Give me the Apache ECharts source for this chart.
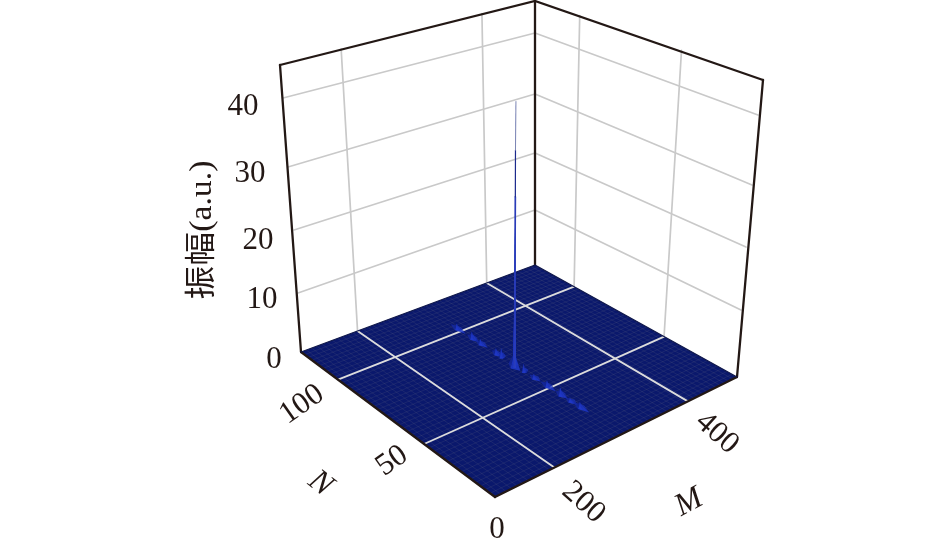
<!DOCTYPE html>
<html><head><meta charset="utf-8">
<style>html,body{margin:0;padding:0;background:#fff}#c{width:945px;height:547px}</style>
<script src="https://cdn.jsdelivr.net/npm/echarts@6/dist/echarts.min.js"></script>
</head><body><div id="c"></div>
<script>
// ---- data ----
const mTicks = [200, 400];
const nTicks = [50, 100];
const zTicks = [10, 20, 30, 40];
const zTickLabels = ['0', '10', '20', '30', '40'];
const mRange = [120.8, 482.5];
const nRange = [13.7, 123.8];
const zTop = 45;
// ridge of small peaks on the surface
const ridgeM = [296, 296, 296, 296, 296, 296, 296, 296, 296, 296, 296];
const ridgeN = [102, 93, 88, 79, 76, 63.5, 58, 51, 44, 39, 34];
const ridgeZ = [1.0, 1.2, 0.9, 1.0, 1.6, 1.3, 0.7, 1.0, 1.2, 0.6, 0.9];
const ridgeWide = [4.5, 3.5, 3.5, 3, 1, 1, 3, 4, 3, 3, 4];
// central spike, as nested layers of one narrow peak
const spikeM = 295;
const spikeN = 68.2;
const spikeZ = [2.2, 13, 26, 41];
const spikeHalfM = [6, 2.2, 1.3, 0.7];
const spikeHalfN = [3.2, 0.9, 0.6, 0.3];

// ---- projection calibration (screen corners and z ticks of the box) ----
const F = [495, 497], R = [737, 377], B = [535, 265], L = [301, 352];
const zKnots = [0, 10, 20, 30, 40, 45];
const leftEdge  = [[301,352],[298,293],[294,230],[288,167],[283,98],[280,65]];
const backEdge0 = [[535,265],[535,210],[535,153],[535,94],[535,33],[535,1]];
const rightEdge = [[737,377],[741,310],[746,247],[752,185],[758,115],[763,80]];
const dx1=R[0]-B[0], dy1=R[1]-B[1], dx2=L[0]-B[0], dy2=L[1]-B[1];
const sx=F[0]-R[0]+B[0]-L[0], sy=F[1]-R[1]+B[1]-L[1];
const den=dx1*dy2-dx2*dy1;
const g=(sx*dy2-dx2*sy)/den, h=(dx1*sy-sx*dy1)/den;
const A=R[0]-F[0]+g*R[0], Bb=L[0]-F[0]+h*L[0], C=F[0];
const D=R[1]-F[1]+g*R[1], E=L[1]-F[1]+h*L[1], Ff=F[1];
function lift(edge,Z,k){
  let i=0; while(i<zKnots.length-2 && Z>zKnots[i+1]) i++;
  const t=(Z-zKnots[i])/(zKnots[i+1]-zKnots[i]);
  return edge[i][k]+(edge[i+1][k]-edge[i][k])*t-edge[0][k];
}
function project(M,N,Z){
  const u=(M-mRange[0])/(mRange[1]-mRange[0]), v=(N-nRange[0])/(nRange[1]-nRange[0]);
  const w=g*u+h*v+1, out=[(A*u+Bb*v+C)/w,(D*u+E*v+Ff)/w];
  for(let k=0;k<2;k++){
    const l=lift(leftEdge,Z,k), b=lift(backEdge0,Z,k), r=lift(rightEdge,Z,k), f=l+r-b;
    out[k]+=(1-u)*(1-v)*f+u*(1-v)*r+u*v*b+(1-u)*v*l;
  }
  return out;
}
const m0=mRange[0],m1=mRange[1],n0=nRange[0],n1=nRange[1];

// ---- build segment tables ----
const wallGrid=[], floorGrid=[], frame=[], mesh=[];
mTicks.forEach(function(m){wallGrid.push([m,n1,0,m,n1,zTop]);floorGrid.push([m,n0,0,m,n1,0]);});
nTicks.forEach(function(n){wallGrid.push([m1,n,0,m1,n,zTop]);floorGrid.push([m0,n,0,m1,n,0]);});
zTicks.forEach(function(z){wallGrid.push([m0,n1,z,m1,n1,z]);wallGrid.push([m1,n1,z,m1,n0,z]);});
frame.push([m0,n1,zTop,m1,n1,zTop],[m1,n1,zTop,m1,n0,zTop],[m0,n1,0,m0,n1,zTop],[m1,n1,0,m1,n1,zTop],[m1,n0,0,m1,n0,zTop]);
const base=[[m0,n0,0,m1,n0,0],[m0,n0,0,m0,n1,0]];
const backEdge=[[m0,n1,0,m1,n1,0],[m1,n1,0,m1,n0,0]];
for(let i=1;i<50;i++){const m=m0+(m1-m0)*i/50;mesh.push([m,n0,0,m,n1,0]);}
for(let i=1;i<46;i++){const n=n0+(n1-n0)*i/46;mesh.push([m0,n,0,m1,n,0]);}

const peaks=[];
ridgeN.forEach(function(n,i){peaks.push([ridgeM[i]+2,n,ridgeZ[i]*0.5,5,ridgeWide[i]]);peaks.push([ridgeM[i],n,ridgeZ[i],2.2,Math.min(ridgeWide[i],1.6)]);});
spikeZ.forEach(function(z,i){peaks.push([spikeM,spikeN,z,spikeHalfM[i],spikeHalfN[i]]);});
const spikeLower=[[spikeM,spikeN,0,spikeM,spikeN,27]];
const spikeUpper=[[spikeM,spikeN,27,spikeM,spikeN,34]];
const spikeTip=[[spikeM,spikeN,34,spikeM,spikeN,41]];

// ---- text tables ----
const serif='"Liberation Serif","Noto Sans CJK SC",serif';
const texts=[];
function label(t,at,dx,dy,rot,font,sc){texts.push({t:t,at:at,dx:dx,dy:dy,rot:rot,font:font||('31px '+serif),sc:sc||1});}
zTickLabels.forEach(function(t,i){
  const off=[[-27,8],[-36,7],[-36,11],[-38,7],[-40,9]][i];
  label(t,[m0,n1,Number(t)],off[0],off[1],0);
});
label('0',[m0,n0,0],2,33,0);
label('50',[m0,50,0],-32,17,35);
label('100',[m0,100,0],-36,25,35);
label('200',[200,n0,0],29,35,-42);
label('400',[400,n0,0],29,32,-42);
label('M',[(m0+m1)/2,n0,0],64,70,28,'italic 32px '+serif);
label('N',[m0,(n0+n1)/2,0],-70,65,-38,'italic 32px '+serif);
label('振幅(a.u.)',[m0,n1,0],-98,-122,90,'31px '+serif,1.09);

function coord(api,M,N,Z){return api.coord(project(M,N,Z));}
function segSeries(rows,color,width,z,name){
  return {type:'custom',name:name,coordinateSystem:'cartesian2d',z:z,silent:true,clip:false,
    encode:{x:0,y:1},data:rows,
    renderItem:function(p,api){
      const a=coord(api,api.value(0),api.value(1),api.value(2));
      const b=coord(api,api.value(3),api.value(4),api.value(5));
      return {type:'line',shape:{x1:a[0],y1:a[1],x2:b[0],y2:b[1]},style:{stroke:color,lineWidth:width,lineCap:'round'}};
    }};
}
const option={
  animation:false,backgroundColor:'#fff',
  grid:{left:0,right:0,top:0,bottom:0},
  xAxis:{type:'value',min:0,max:945,show:false},
  yAxis:{type:'value',min:0,max:547,inverse:true,show:false},
  series:[
    segSeries(wallGrid,'#c9c9c9',1.7,1,'walls'),
    segSeries(frame,'#231815',2.3,2,'frame'),
    {type:'custom',name:'surface',coordinateSystem:'cartesian2d',z:3,silent:true,clip:false,encode:{x:0,y:1},
      data:[[m0,n0,m1,n1]],
      renderItem:function(p,api){
        const a=api.value(0),b=api.value(1),c=api.value(2),d=api.value(3);
        return {type:'polygon',shape:{points:[coord(api,a,b,0),coord(api,c,b,0),coord(api,c,d,0),coord(api,a,d,0)]},style:{fill:'#0a186c'}};
      }},
    segSeries(mesh,'rgba(125,125,135,0.24)',0.6,4,'mesh'),
    segSeries(floorGrid,'#dcdcdc',1.8,5,'floorGrid'),
    segSeries(base,'#231815',2.2,6,'baseEdges'),
    segSeries(backEdge,'#10184a',1.2,6,'backEdges'),
    {type:'custom',name:'peaks',coordinateSystem:'cartesian2d',z:7,silent:true,clip:false,encode:{x:0,y:1},
      data:peaks,
      renderItem:function(p,api){
        const M=api.value(0),N=api.value(1),Z=api.value(2),dm=api.value(3),dn=api.value(4);
        const t=coord(api,M,N,Z),a=coord(api,M-dm,N,0),b=coord(api,M,N-dn,0),c=coord(api,M+dm,N,0),d=coord(api,M,N+dn,0);
        const tall=Z>5, op=tall?1:0.85;
        return {type:'group',children:[
          {type:'polygon',shape:{points:[t,d,a]},style:{fill:tall?'#1c2fb8':'#16299e',opacity:op}},
          {type:'polygon',shape:{points:[t,c,d]},style:{fill:tall?'#1c2fb8':'#13258f',opacity:op}},
          {type:'polygon',shape:{points:[t,a,b]},style:{fill:tall?'#2440cc':'#2038c8',opacity:op}},
          {type:'polygon',shape:{points:[t,b,c]},style:{fill:tall?'#2440cc':'#1a30b0',opacity:op}}
        ]};
      }},
    segSeries(spikeLower,'#2a3cb8',1.7,8,'spikeLower'),
    segSeries(spikeUpper,'#1c2a8c',1.2,8,'spikeUpper'),
    segSeries(spikeTip,'#7d86b4',1,8,'spikeTip'),
    {type:'custom',name:'text',coordinateSystem:'cartesian2d',z:9,silent:true,clip:false,encode:{x:0,y:1},
      data:texts.map(function(o,i){return [o.at[0],o.at[1],o.at[2],i];}),
      renderItem:function(p,api){
        const o=texts[api.value(3)],c=coord(api,api.value(0),api.value(1),api.value(2));
        return {type:'text',x:c[0]+o.dx,y:c[1]+o.dy,rotation:o.rot*Math.PI/180,scaleX:o.sc,
          style:{text:o.t,font:o.font,fill:'#231815',textAlign:'center',textVerticalAlign:'middle'}};
      }}
  ]
};
echarts.init(document.getElementById('c')).setOption(option);
</script></body></html>
